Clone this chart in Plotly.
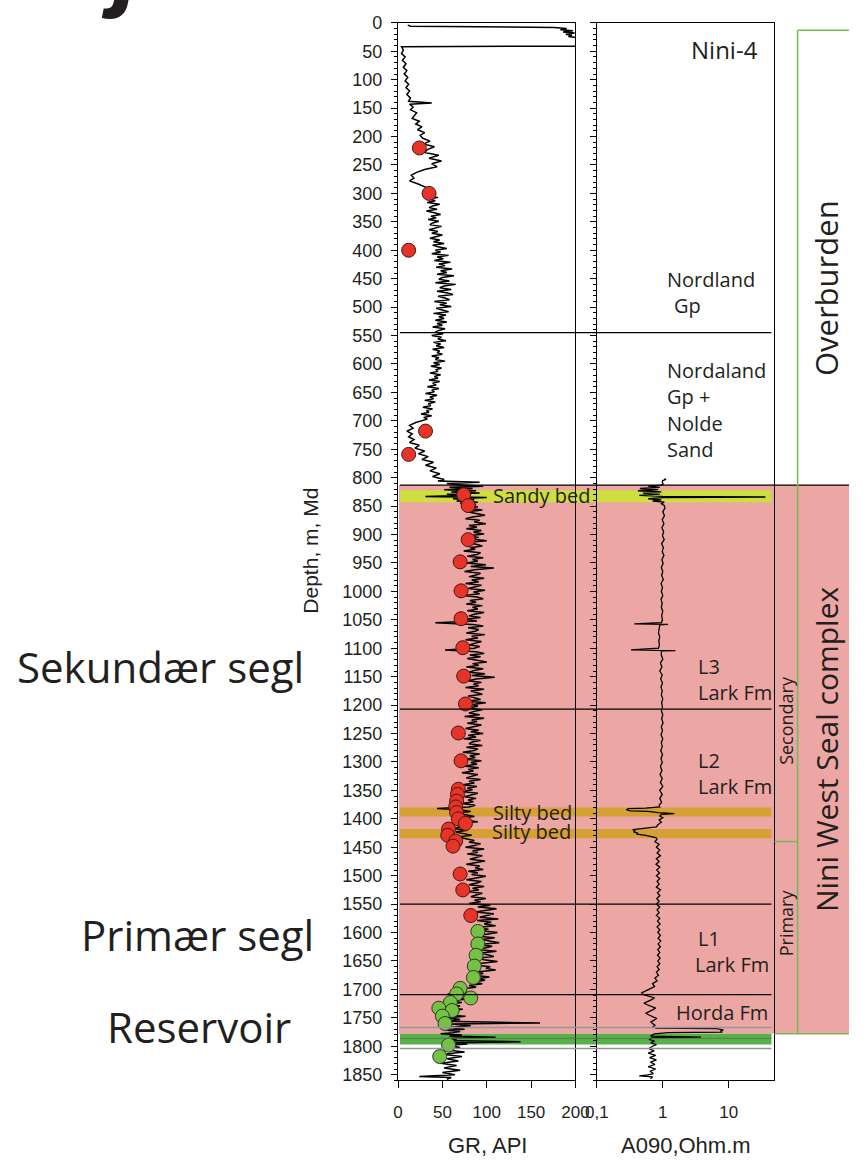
import plotly.graph_objects as go

W, H = 863, 1164

# ---------------- Gamma-ray log (API) against measured depth (m) ----------------
GR_DEPTH = [
    4, 6, 8, 10, 12, 14, 16, 18, 20, 22, 24, 26, 30, 36, 41, 42,
    48, 54, 60, 66, 72, 78, 84, 90, 96, 102, 108, 114, 120, 126, 132, 138, 141, 143, 148,
    153, 158, 163, 168, 173, 178, 183, 188, 193, 198, 203, 208, 213, 218, 223, 228, 233, 238,
    243, 248, 253, 258, 263, 268, 273, 278, 283, 288, 293, 298,
    301, 304, 307, 310, 313, 316, 319, 322, 325, 328, 331, 334, 337, 340, 343,
    346, 349, 352, 355, 358, 361, 364, 367, 370, 373, 376, 379, 382, 385, 388,
    391, 394, 397, 400, 403, 406, 409, 412, 415, 418, 421, 424, 427, 430, 433,
    436, 439, 442, 445, 448, 451, 454, 457, 460, 463, 466, 469, 472, 475, 478,
    481, 484, 487, 490, 493, 496, 499, 502, 505, 508, 511, 514, 517, 520, 523,
    526, 529, 532, 535, 538, 541, 544, 547, 550, 553, 556, 559, 562, 565, 568,
    571, 574, 577, 580, 583, 586, 589, 592, 595, 598, 601, 604, 607, 610, 613,
    616, 619, 622, 625, 628, 631, 634, 637, 640, 643, 646, 649, 652, 655, 658,
    661, 664, 667, 670, 673, 676, 679, 682, 685, 688, 691, 694, 697, 700,
    703, 708, 713, 718, 723, 728, 733, 738, 743, 748, 753, 758, 763, 768, 773, 778, 783, 788,
    793, 798, 803, 806, 808, 810, 812,
    815, 817, 819, 821, 823, 825, 827, 829, 831, 833, 835, 837, 839, 841, 843, 845, 847, 849,
    851, 854, 857, 860, 863, 866, 869, 872, 875, 878, 881, 884, 887, 890, 893,
    896, 899, 902, 905, 908, 911, 914, 917, 920, 923, 926, 929, 932, 935, 938,
    941, 944, 947, 950, 953, 956, 959, 962, 965, 968, 971, 974, 977, 980, 983,
    986, 989, 992, 995, 998, 1001, 1004, 1007, 1010, 1013, 1016, 1019, 1022, 1025, 1028,
    1031, 1034, 1037, 1040, 1043, 1046, 1049, 1052, 1055, 1058, 1061, 1064, 1067, 1070, 1073,
    1076, 1079, 1082, 1085, 1088, 1091, 1094, 1097, 1100, 1103, 1106, 1109, 1112, 1115, 1118,
    1121, 1124, 1127, 1130, 1133, 1136, 1139, 1142, 1145, 1148, 1151, 1154, 1157, 1160, 1163,
    1166, 1169, 1172, 1175, 1178, 1181, 1184, 1187, 1190, 1193, 1196, 1199, 1202, 1205, 1208,
    1211, 1214, 1217, 1220, 1223, 1226, 1229, 1232, 1235, 1238, 1241, 1244, 1247, 1250, 1253,
    1256, 1259, 1262, 1265, 1268, 1271, 1274, 1277, 1280, 1283, 1286, 1289, 1292, 1295, 1298,
    1301, 1304, 1307, 1310, 1313, 1316, 1319, 1322, 1325, 1328, 1331, 1334, 1337, 1340, 1343,
    1346, 1349, 1352, 1355, 1358, 1361, 1364, 1367, 1370, 1373, 1376, 1379,
    1382, 1384, 1387, 1390, 1393, 1396, 1399, 1402, 1405, 1408, 1411, 1414, 1417, 1420,
    1423, 1426, 1429, 1432, 1435, 1438,
    1441, 1444, 1447, 1450, 1453, 1456, 1459, 1462, 1465, 1468, 1471, 1474, 1477, 1480, 1483,
    1486, 1489, 1492, 1495, 1498, 1501, 1504, 1507, 1510, 1513, 1516, 1519, 1522, 1525, 1528,
    1531, 1534, 1537, 1540, 1543, 1546, 1549,
    1552, 1555, 1558, 1561, 1564, 1567, 1570, 1573, 1576, 1579, 1582, 1585, 1588, 1591, 1594,
    1597, 1600, 1603, 1606, 1609, 1612, 1615, 1618, 1621, 1624, 1627, 1630, 1633, 1636, 1639,
    1642, 1645, 1648, 1651, 1654, 1657, 1660, 1663, 1666, 1669, 1672, 1675, 1678, 1681, 1684,
    1687, 1690, 1693, 1696, 1699,
    1702, 1705, 1708, 1711, 1714, 1717, 1720, 1723, 1726, 1729, 1732, 1735, 1738, 1741, 1744,
    1747, 1750, 1753, 1756, 1759, 1761, 1764, 1767,
    1770, 1772, 1774, 1776, 1778, 1780, 1782, 1784, 1786, 1788, 1790, 1792, 1794, 1796, 1798,
    1802, 1806, 1810, 1814, 1818, 1822, 1826, 1830, 1834, 1838, 1842, 1846, 1850, 1853, 1855, 1858,
]
GR_API = [
    11, 14, 176, 190, 183, 197, 186, 199, 189, 196, 192, 201, 206, 207, 206, 4,
    6, 4, 8, 5, 9, 6, 10, 7, 11, 8, 12, 9, 13, 10, 14, 12, 38, 13, 17,
    14, 21, 18, 16, 24, 20, 27, 22, 30, 25, 28, 36, 29, 41, 33, 30, 46, 35,
    49, 38, 44, 30, 21, 15, 18, 13, 22, 29, 37, 33,
    38, 31, 45, 36, 42, 33, 47, 39, 35, 44, 32, 41, 48, 37, 43,
    34, 46, 39, 36, 49, 41, 35, 45, 38, 50, 42, 36, 47, 40, 52,
    39, 45, 55, 42, 48, 38, 57, 44, 51, 41, 59, 46, 53, 43, 61,
    48, 55, 44, 63, 50, 46, 58, 42, 65, 52, 47, 60, 44, 56, 62,
    45, 53, 58, 41, 55, 47, 60, 43, 51, 57, 40, 54, 46, 52, 42,
    55, 44, 50, 39, 53, 46, 42, 51, 38, 49, 45, 54, 40, 48, 43,
    52, 39, 47, 44, 50, 38, 46, 42, 53, 40, 47, 37, 49, 43, 45,
    36, 48, 41, 45, 35, 47, 39, 43, 33, 46, 38, 41, 31, 44, 36,
    40, 30, 42, 34, 37, 28, 39, 32, 35, 26, 38, 29, 33, 27,
    20, 13, 17, 10, 16, 12, 18, 13, 24, 19, 30, 23, 34, 27, 40, 31, 43, 36,
    47, 39, 52, 45, 92, 55, 64,
    96, 58, 84, 52, 88, 60, 92, 55, 80, 31, 100, 62, 86, 66, 90, 70, 88, 72,
    90, 81, 95, 78, 88, 98, 84, 76, 92, 86, 99, 80, 89, 77, 94,
    85, 97, 79, 91, 83, 100, 76, 88, 95, 81, 87, 74, 93, 89, 78,
    96, 84, 90, 77, 99, 82, 108, 86, 75, 93, 88, 80, 97, 83, 91,
    76, 94, 87, 79, 98, 85, 92, 74, 89, 96, 81, 88, 77, 95, 84,
    90, 78, 97, 86, 80, 93, 75, 89, 42, 84, 96, 79, 91, 87, 77,
    98, 83, 90, 76, 94, 85, 80, 92, 86, 53, 88, 97, 81, 93, 78,
    89, 100, 84, 91, 77, 96, 86, 80, 98, 83, 109, 88, 79, 94, 85,
    91, 76, 97, 82, 89, 95, 79, 87, 93, 78, 99, 84, 90, 77, 95,
    86, 80, 92, 75, 97, 83, 89, 78, 94, 85, 76, 91, 82, 96, 79,
    88, 74, 93, 84, 80, 95, 77, 90, 86, 73, 92, 81, 87, 76, 94,
    82, 89, 74, 91, 79, 85, 72, 90, 83, 77, 93, 80, 86, 73, 89,
    78, 84, 71, 90, 81, 75, 88, 79, 85, 72, 87, 80,
    44, 70, 82, 64, 76, 86, 68, 74, 90, 66, 80, 72, 62, 78,
    65, 74, 83, 67, 79, 86,
    80, 93, 86, 76, 97, 84, 90, 78, 95, 88, 81, 98, 85, 77, 92,
    87, 96, 79, 90, 83, 99, 86, 77, 94, 89, 80, 97, 84, 91, 78,
    95, 88, 82, 99, 86, 93, 80,
    104, 90, 111, 96, 87, 108, 100, 92, 113, 89, 105, 97, 110, 88, 102,
    94, 112, 99, 87, 109, 95, 103, 114, 90, 106, 98, 88, 111, 93, 101,
    108, 89, 97, 112, 94, 86, 104, 99, 110, 91, 96, 85, 103, 92, 98,
    84, 95, 80, 88, 72,
    60, 78, 56, 74, 58, 80, 55, 72, 52, 70, 50, 73, 54, 68, 48,
    76, 56, 70, 52, 160, 60, 82, 58,
    75, 55, 70, 62, 48, 72, 58, 110, 60, 66, 52, 138, 64, 78, 58,
    70, 52, 75, 50, 72, 55, 68, 48, 66, 52, 70, 50, 64, 24, 60, 55,
]

# ---------------- Deep resistivity log A090 (ohm.m) ----------------
RES_DEPTH = [
    802, 803, 805, 808, 811,
    813, 815, 817, 819, 821, 823, 825, 827, 829, 831, 833, 834, 835, 837, 839, 841, 843, 846, 849,
    853, 860, 867, 874, 881, 888, 895, 902, 909, 916, 923, 930, 937, 944, 951, 958, 965, 972,
    979, 986, 993, 1000, 1007, 1014, 1021, 1028, 1035, 1042, 1050, 1055, 1057, 1058, 1059,
    1066, 1073, 1080, 1087, 1094, 1100, 1103, 1104, 1105, 1112, 1119, 1126, 1133, 1140, 1147,
    1154, 1161, 1168, 1175, 1182, 1189, 1196, 1203, 1210, 1217, 1224, 1231, 1238, 1245, 1252,
    1259, 1266, 1273, 1280, 1287, 1294, 1301, 1308, 1315, 1322, 1329, 1336, 1343, 1350, 1357,
    1364, 1371, 1376,
    1379, 1381, 1382, 1384, 1386, 1387, 1389, 1391, 1392, 1395, 1398, 1402, 1406, 1410, 1414, 1417,
    1419, 1421, 1423, 1425, 1427, 1429, 1431, 1433, 1436, 1440,
    1445, 1450, 1455, 1460, 1465, 1470, 1475, 1480, 1485, 1490, 1495, 1500, 1505, 1510, 1515,
    1520, 1525, 1530, 1535, 1540, 1545, 1550, 1555, 1560, 1565, 1570, 1575, 1580, 1585, 1590,
    1595, 1600, 1605, 1610, 1615, 1620, 1625, 1630, 1635, 1640, 1645, 1650, 1655, 1660, 1665,
    1670, 1675, 1680, 1685, 1690, 1695, 1700,
    1703, 1706, 1709, 1712, 1715, 1718, 1721, 1724, 1727, 1730, 1733, 1736, 1739, 1742, 1745,
    1748, 1751, 1754, 1757, 1760, 1763, 1766,
    1768, 1769, 1771, 1773, 1775, 1776, 1778, 1780, 1782, 1784, 1785, 1788, 1791, 1794, 1797,
    1800, 1804, 1808, 1812, 1816, 1820, 1824, 1828, 1832, 1836, 1840, 1844, 1848, 1851, 1852,
    1854, 1857,
]
RES_OHMM = [
    1.05, 1.12, 1.0, 0.98, 1.02,
    0.95, 0.6, 0.9, 0.45, 0.85, 0.42, 0.95, 0.5, 0.9, 0.44, 1.0, 36, 1.0, 0.6, 0.95, 0.7, 1.05, 0.95, 1.05,
    1.08, 1.0, 1.06, 0.98, 1.04, 0.97, 1.03, 0.99, 1.05, 0.96, 1.02, 0.98, 1.04, 0.97, 1.01, 0.95, 1.0, 0.96,
    1.02, 0.94, 0.99, 0.95, 1.0, 0.94, 0.98, 0.95, 1.0, 0.96, 0.99, 0.95, 0.37, 1.2, 0.9,
    0.88, 0.86, 0.9, 0.87, 0.89, 0.86, 0.33, 1.55, 0.95, 0.95, 1.0, 0.92, 0.97, 0.9, 0.98,
    0.93, 0.99, 0.94, 0.98, 0.95, 1.0, 0.96, 0.99, 0.95, 1.0, 0.96, 1.01, 0.95, 0.99, 0.94,
    1.0, 0.95, 0.98, 0.93, 0.99, 0.94, 0.98, 0.92, 0.97, 0.91, 0.98, 0.92, 1.0, 0.9, 0.98,
    0.9, 0.96, 0.88,
    0.9, 0.55, 0.3, 0.28, 0.32, 0.6, 0.85, 1.5, 0.95, 0.9, 1.0, 0.88, 0.95, 0.85, 0.8, 0.5,
    0.35, 0.38, 0.36, 0.42, 0.4, 0.55, 0.7, 0.78, 0.82, 0.76,
    0.88, 0.8, 0.9, 0.82, 0.92, 0.8, 0.88, 0.79, 0.9, 0.81, 0.89, 0.8, 0.9, 0.82, 0.88,
    0.8, 0.92, 0.83, 0.9, 0.81, 0.88, 0.8, 0.9, 0.82, 0.88, 0.8, 0.9, 0.83, 0.91, 0.82,
    0.9, 0.84, 0.92, 0.85, 0.93, 0.85, 0.92, 0.84, 0.9, 0.83, 0.91, 0.84, 0.9, 0.82, 0.88,
    0.8, 0.86, 0.76, 0.82, 0.7, 0.75, 0.6,
    0.52, 0.48, 0.5, 0.62, 0.75, 0.68, 0.6, 0.52, 0.58, 0.66, 0.78, 0.7, 0.6, 0.55, 0.62,
    0.72, 0.8, 0.74, 0.66, 0.7, 0.76, 0.7,
    0.8, 6.5, 8.3, 7.5, 8.0, 1.2, 0.75, 0.7, 0.65, 3.8, 0.7, 0.62, 0.75, 0.66, 0.8,
    0.7, 0.62, 0.74, 0.6, 0.78, 0.63, 0.8, 0.65, 0.76, 0.6, 0.78, 0.64, 0.72, 0.55, 0.44,
    0.7, 0.65,
]

# ---------------- Core / cuttings samples plotted on the GR track ----------------
RED_DEPTH = [220, 300, 400, 718, 759, 830, 849, 909, 948, 999, 1048, 1099, 1149, 1198, 1249,
             1298, 1348, 1357, 1369, 1379, 1389, 1400, 1408, 1418, 1429, 1439, 1448, 1497, 1525, 1570]
RED_GR = [24, 35, 12, 31, 12, 74, 79, 79, 70, 71, 71, 73, 74, 76, 68,
          71, 68, 67, 66, 65, 66, 68, 76, 57, 56, 65, 62, 70, 73, 82]
GREEN_DEPTH = [1598, 1620, 1640, 1659, 1679, 1698, 1708, 1715, 1723, 1733, 1737, 1747, 1760, 1798, 1818]
GREEN_GR = [90, 90, 88, 86, 85, 70, 66, 82, 59, 46, 61, 50, 53, 57, 47]

# ---------------- Axis ticks ----------------
GR_TICKS = [0, 50, 100, 150, 200]
RES_TICKS = [0.1, 1, 10]
RES_TICK_TEXT = ["0,1", "1", "10"]

# ---------------- Intervals (m MD) ----------------
DEPTH_MAX = 1860
OVERBURDEN_TOP = 13
SEAL_TOP, SEAL_BASE = 813, 1778
SANDY_BED = (822, 843)
SILTY_BEDS = [(1380, 1396), (1418, 1434)]
RESERVOIR_BAND = (1778, 1797)
GREY_MARKERS = [1767, 1804]
RESERVOIR_MID = 1786
FORMATION_TOPS = [545, 1207, 1550, 1709]
SEAL_SPLIT = 1440

# formation labels: (text, depth, left edge px)
FORMATION_LABELS = [
    ("Nordland", 452, 673), ("Gp", 498, 681),
    ("Nordaland", 611, 673), ("Gp +", 657, 673), ("Nolde", 704, 673), ("Sand", 750, 673),
    ("L3", 1132, 705), ("Lark Fm", 1177, 705),
    ("L2", 1297, 705), ("Lark Fm", 1343, 705),
    ("L1", 1610, 705), ("Lark Fm", 1656, 702),
    ("Horda Fm", 1740, 683),
]
BED_LABELS = [("Sandy bed", 832, 494), ("Silty bed", 1388, 494), ("Silty bed", 1423, 493)]

PINK = "rgb(236,166,163)"
SANDY = "rgb(205,222,62)"
SILTY = "rgb(214,160,52)"
RES_GREEN = "rgb(86,178,72)"
BOX_GREEN = "rgb(112,190,80)"
INK = "#231f20"
MYRIAD = "Open Sans"
ARIAL = "Liberation Sans"


def px_x(x):
    return x / W


def px_y(y):
    return 1 - y / H


GR_DOM = [px_x(398), px_x(581)]
RES_DOM = [px_x(603), px_x(786)]
Y_DOM = [px_y(13 + DEPTH_MAX * 0.576), px_y(13)]

fig = go.Figure()
fig.add_trace(go.Scatter(x=GR_API, y=GR_DEPTH, mode="lines",
                         line=dict(color="black", width=1.5), xaxis="x", yaxis="y"))
fig.add_trace(go.Scatter(x=RED_GR, y=RED_DEPTH, mode="markers",
                         marker=dict(size=14, color="rgb(232,52,40)",
                                     line=dict(color="rgb(70,25,20)", width=1)),
                         xaxis="x", yaxis="y"))
fig.add_trace(go.Scatter(x=GREEN_GR, y=GREEN_DEPTH, mode="markers",
                         marker=dict(size=14, color="rgb(118,192,70)",
                                     line=dict(color="rgb(40,60,30)", width=1)),
                         xaxis="x", yaxis="y"))
fig.add_trace(go.Scatter(x=RES_OHMM, y=RES_DEPTH, mode="lines",
                         line=dict(color="black", width=1.3), xaxis="x2", yaxis="y2"))

shapes = []


def band(d0, d1, color, x0=400, x1=783):
    shapes.append(dict(type="rect", xref="paper", yref="y", x0=px_x(x0), x1=px_x(x1),
                       y0=d0, y1=d1, fillcolor=color, line=dict(width=0), layer="below"))


def hline(d, color, x0=400, x1=783, width=1.2, layer="above"):
    shapes.append(dict(type="line", xref="paper", yref="y", x0=px_x(x0), x1=px_x(x1),
                       y0=d, y1=d, line=dict(color=color, width=width), layer=layer))


def vline(x, d0, d1, color, width=1.5):
    shapes.append(dict(type="line", xref="paper", yref="y", x0=px_x(x), x1=px_x(x),
                       y0=d0, y1=d1, line=dict(color=color, width=width), layer="above"))


band(SEAL_TOP, SEAL_BASE, PINK, x0=399, x1=W)
band(*SANDY_BED, SANDY)
for top, base in SILTY_BEDS:
    band(top, base, SILTY)
band(*RESERVOIR_BAND, RES_GREEN)
for d in GREY_MARKERS:
    hline(d, "rgb(150,150,150)", width=1.6)
hline(RESERVOIR_MID, "rgb(90,120,80)", width=1.0)
for d in FORMATION_TOPS:
    hline(d, "black")
hline(SEAL_TOP, "black", x1=W)

# overburden / seal-complex frames
vline(810, OVERBURDEN_TOP, SEAL_BASE, BOX_GREEN)
hline(OVERBURDEN_TOP, BOX_GREEN, x0=810, x1=W, width=1.5)
hline(SEAL_BASE, BOX_GREEN, x0=786, x1=W, width=1.5)
hline(SEAL_SPLIT, BOX_GREEN, x0=786, x1=810, width=1.5)

annotations = []


def label(text, depth, x, size=20, anchor="left", family=MYRIAD, angle=0):
    annotations.append(dict(text=text, xref="paper", yref="y", x=px_x(x), y=depth,
                            xanchor=anchor, yanchor="middle", showarrow=False, textangle=angle,
                            font=dict(family=family, size=size, color=INK)))


def page_label(text, x, y, size, family=MYRIAD, angle=0, anchor="center", **font):
    annotations.append(dict(text=text, xref="paper", yref="paper", x=px_x(x), y=px_y(y),
                            xanchor=anchor, yanchor="middle", showarrow=False, textangle=angle,
                            font=dict(family=family, size=size, color=INK, **font)))


label("Nini-4", 47, 771, size=24, anchor="right")
for text, depth, x in FORMATION_LABELS:
    label(text, depth, x)
for text, depth, x in BED_LABELS:
    label(text, depth, x, size=20)
label("Secondary", 1226, 798, size=18, anchor="center", angle=-90)
label("Primary", 1582, 798, size=18, anchor="center", angle=-90)

page_label("Overburden", 840, 282, 31, angle=-90)
page_label("Nini West Seal complex", 840, 749, 30, angle=-90)
page_label("Depth, m, Md", 308, 548, 21, family=ARIAL, angle=-90)
page_label("GR, API", 490, 1150, 22, family=ARIAL)
page_label("A090,Ohm.m", 695, 1150, 22, family=ARIAL)
page_label("Sekundær segl", 303, 665, 42, anchor="right")
page_label("Primær segl", 313, 937, 42, anchor="right")
page_label("Reservoir", 290, 1030, 42, anchor="right")
page_label("j", 90, -50, 104, family=ARIAL, anchor="left", weight="bold", style="italic")

axis_common = dict(showline=True, mirror=True, linecolor="black", linewidth=1.2,
                   showgrid=False, zeroline=False, ticks="outside", tickcolor="black")

fig.update_layout(
    width=W, height=H, margin=dict(l=0, r=0, t=0, b=0),
    paper_bgcolor="white", plot_bgcolor="rgba(0,0,0,0)", showlegend=False,
    xaxis=dict(domain=GR_DOM, range=[0, 200], anchor="y", tickvals=GR_TICKS, ticklen=7,
               ticklabelstandoff=9, tickfont=dict(family=ARIAL, size=17, color=INK),
               **axis_common),
    yaxis=dict(domain=Y_DOM, range=[DEPTH_MAX, 0], anchor="x", tick0=0, dtick=50, ticklen=6,
               ticklabelstandoff=5, tickfont=dict(family=ARIAL, size=18, color=INK),
               minor=dict(dtick=10, ticklen=3, ticks="outside", tickcolor="black", showgrid=False),
               **axis_common),
    xaxis2=dict(domain=RES_DOM, type="log", range=[-1, 1.691], anchor="y2",
                tickvals=RES_TICKS, ticktext=RES_TICK_TEXT, ticklen=7, ticklabelstandoff=9,
                tickfont=dict(family=ARIAL, size=17, color=INK), **axis_common),
    yaxis2=dict(domain=Y_DOM, range=[DEPTH_MAX, 0], anchor="x2", matches="y", tick0=0, dtick=50,
                ticklen=6, showticklabels=False,
                minor=dict(dtick=10, ticklen=3, ticks="outside", tickcolor="black", showgrid=False),
                **axis_common),
    shapes=shapes, annotations=annotations,
)

fig.write_html("out.html", config={"displayModeBar": False})
